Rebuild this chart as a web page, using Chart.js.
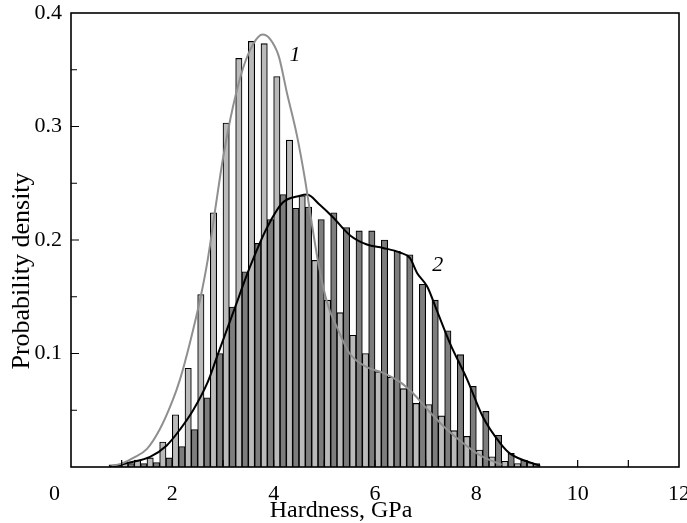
<!DOCTYPE html>
<html>
<head>
<meta charset="utf-8">
<script src="https://cdn.jsdelivr.net/npm/chart.js@4"></script>
<style>
  body { margin: 0; background: #fff; }
</style>
</head>
<body>
<canvas id="chart" width="687" height="523"></canvas>
<script>
// bin centres (GPa), bin width 0.25
const binCenters = [0.875, 1.125, 1.375, 1.625, 1.875, 2.125, 2.375, 2.625, 2.875, 3.125,
    3.375, 3.625, 3.875, 4.125, 4.375, 4.625, 4.875, 5.125, 5.375, 5.625,
    5.875, 6.125, 6.375, 6.625, 6.875, 7.125, 7.375, 7.625, 7.875, 8.125,
    8.375, 8.625, 8.875, 9.125];

// histogram 1 (light bars)
const hist1 = [0.002, 0.004, 0.006, 0.008, 0.022, 0.046, 0.087, 0.152, 0.224, 0.303,
    0.360, 0.375, 0.373, 0.344, 0.288, 0.239, 0.182, 0.147, 0.136, 0.116,
    0.100, 0.084, 0.079, 0.069, 0.056, 0.055, 0.045, 0.032, 0.027, 0.015,
    0.009, 0.005, 0.003, 0.004];

// histogram 2 (dark bars)
const hist2 = [0.002, 0.003, 0.003, 0.004, 0.008, 0.018, 0.033, 0.061, 0.100, 0.141,
    0.172, 0.197, 0.218, 0.240, 0.228, 0.229, 0.218, 0.224, 0.211, 0.208,
    0.208, 0.200, 0.190, 0.187, 0.161, 0.147, 0.120, 0.099, 0.071, 0.049,
    0.028, 0.012, 0.006, 0.003];

// fitted curve 1 (gray)
const curve1X = [0.8, 1.0, 1.23, 1.5, 1.75, 2.0, 2.15, 2.35, 2.55, 2.7, 2.85, 3.0, 3.2, 3.4, 3.6, 3.78, 3.93, 4.1,
    4.26, 4.46, 4.62, 4.72, 4.88, 5.06, 5.25, 5.5, 5.84, 6.16, 6.49, 6.75, 7.09,
    7.42, 7.74, 8.01, 8.27, 8.5];
const curve1Y = [0.001, 0.003, 0.008, 0.016, 0.033, 0.058, 0.077, 0.110, 0.148, 0.183, 0.228, 0.272, 0.318, 0.352, 0.373, 0.381, 0.377, 0.362,
    0.330, 0.292, 0.253, 0.224, 0.180, 0.144, 0.123, 0.100, 0.088, 0.083, 0.075, 0.065, 0.048,
    0.033, 0.021, 0.012, 0.006, 0.002];

// fitted curve 2 (black)
const curve2X = [0.77, 1.16, 1.56, 1.89, 2.15, 2.41, 2.7, 2.88, 3.2, 3.53, 3.87, 4.18, 4.52,
    4.66, 4.91, 5.17, 5.51, 5.84, 6.16, 6.49, 6.69, 6.83, 7.03, 7.22, 7.48, 7.82,
    8.13, 8.47, 8.66, 9.26];
const curve2Y = [0.000, 0.004, 0.009, 0.019, 0.033, 0.050, 0.075, 0.097, 0.136, 0.176, 0.211, 0.233, 0.239,
    0.240, 0.231, 0.220, 0.204, 0.196, 0.193, 0.189, 0.184, 0.171, 0.159, 0.138, 0.109, 0.077,
    0.044, 0.021, 0.012, 0.001];

const xTicks = [0, 2, 4, 6, 8, 10, 12];
const yTicks = [0.1, 0.2, 0.3, 0.4];
const curveLabels = [{ text: "1", x: 4.42, y: 0.363 }, { text: "2", x: 7.24, y: 0.178 }];

const SERIF = "'Liberation Serif', 'Times New Roman', serif";

function pairs(xs, ys) {
    return xs.map((x, i) => ({ x: x, y: ys[i] }));
}

// frame, inward ticks, axis titles and curve numbers
const decorations = {
    id: "decorations",
    afterDraw(chart) {
        const ctx = chart.ctx;
        const a = chart.chartArea;
        const xs = chart.scales.x;
        const ys = chart.scales.y;
        ctx.save();
        ctx.strokeStyle = "#000";
        ctx.lineWidth = 1.6;
        ctx.strokeRect(a.left, a.top, a.right - a.left, a.bottom - a.top);

        ctx.lineWidth = 1.2;
        ctx.beginPath();
        for (let v = 1; v < 12; v++) {
            const px = xs.getPixelForValue(v);
            ctx.moveTo(px, a.bottom);
            ctx.lineTo(px, a.bottom - 7);
        }
        for (let i = 1; i < 8; i++) {
            const py = ys.getPixelForValue(i * 0.05);
            ctx.moveTo(a.left, py);
            ctx.lineTo(a.left + (i % 2 === 0 ? 8 : 6), py);
        }
        ctx.stroke();

        ctx.fillStyle = "#000";
        ctx.textAlign = "center";
        ctx.textBaseline = "middle";
        ctx.font = "24px " + SERIF;
        ctx.fillText("Hardness, GPa", 341, 511);

        ctx.save();
        ctx.translate(22, 271);
        ctx.rotate(-Math.PI / 2);
        ctx.font = "26px " + SERIF;
        ctx.fillText("Probability density", 0, 0);
        ctx.restore();

        ctx.font = "italic 22px " + SERIF;
        curveLabels.forEach(l => {
            ctx.fillText(l.text, xs.getPixelForValue(l.x), ys.getPixelForValue(l.y));
        });
        ctx.restore();
    }
};

const curveStyle = { borderWidth: 2, pointRadius: 0, cubicInterpolationMode: "monotone", fill: false };
const barStyle = { borderColor: "#000", borderWidth: 1.1, barPercentage: 1, categoryPercentage: 1 };

new Chart(document.getElementById("chart"), {
    type: "bar",
    data: {
        datasets: [
            Object.assign({ type: "line", label: "1", data: pairs(curve1X, curve1Y), borderColor: "#8f8f8f" }, curveStyle),
            Object.assign({ type: "line", label: "2", data: pairs(curve2X, curve2Y), borderColor: "#000" }, curveStyle),
            Object.assign({ label: "hist 1", data: pairs(binCenters, hist1), backgroundColor: "#bababa" }, barStyle),
            Object.assign({ label: "hist 2", data: pairs(binCenters, hist2), backgroundColor: "#7d7d7d" }, barStyle)
        ]
    },
    options: {
        responsive: false,
        animation: false,
        layout: { padding: { top: 13, right: 8, left: 0, bottom: 0 } },
        plugins: {
            legend: { display: false },
            tooltip: { enabled: false }
        },
        scales: {
            x: {
                type: "linear",
                min: 0,
                max: 12,
                offset: false,
                grid: { display: false, drawTicks: false },
                border: { display: false },
                afterBuildTicks: s => { s.ticks = xTicks.map(v => ({ value: v })); },
                afterFit: s => { s.height = 56; s.paddingLeft = 0; s.paddingRight = 0; },
                ticks: {
                    color: "#000",
                    padding: 14,
                    maxRotation: 0,
                    autoSkip: false,
                    font: { family: SERIF, size: 22 },
                    callback: v => v === 0 ? "0\u00a0\u00a0\u00a0\u00a0\u00a0\u00a0" : String(v)
                }
            },
            y: {
                type: "linear",
                min: 0,
                max: 0.4,
                grid: { display: false, drawTicks: false },
                border: { display: false },
                afterBuildTicks: s => { s.ticks = yTicks.map(v => ({ value: v })); },
                afterFit: s => { s.width = 71; s.paddingTop = 0; s.paddingBottom = 0; },
                ticks: {
                    color: "#000",
                    padding: 9,
                    font: { family: SERIF, size: 22 },
                    callback: v => v.toFixed(1)
                }
            }
        }
    },
    plugins: [decorations]
});
</script>
</body>
</html>
